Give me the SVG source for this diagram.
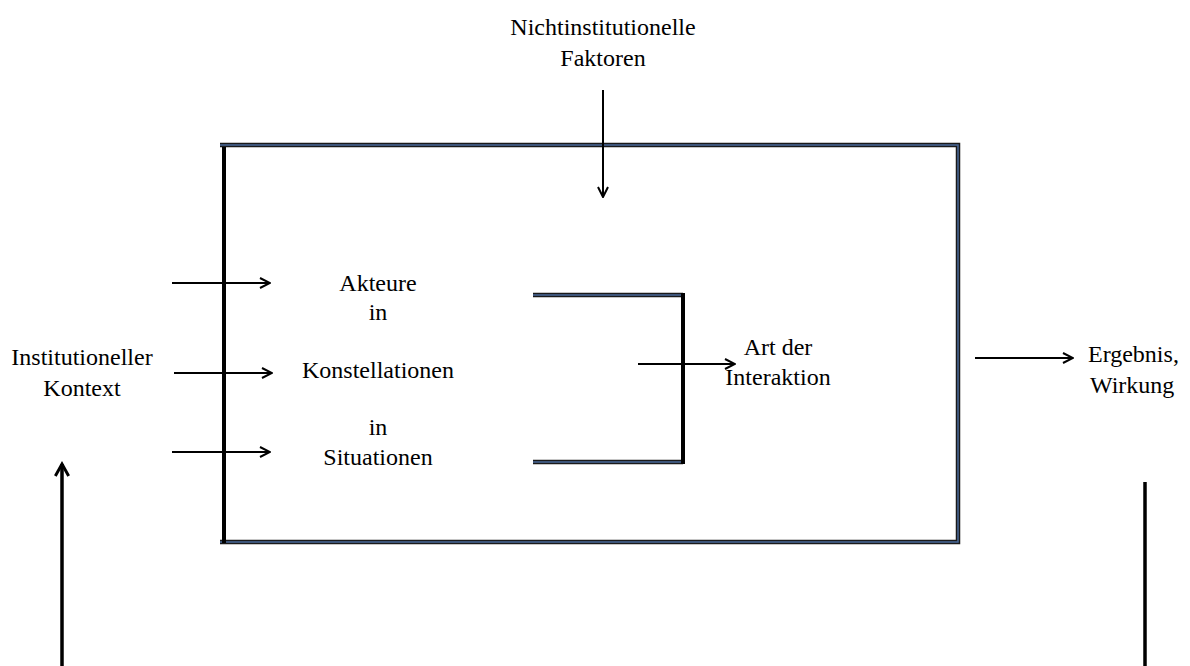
<svg xmlns="http://www.w3.org/2000/svg" width="1190" height="666" viewBox="0 0 1190 666">
<style>
text{font-family:"Liberation Serif","Times New Roman",serif;font-size:24px;fill:#000}
.c{text-anchor:middle}
.bo{stroke:#1a1a1a;stroke-width:4.5;fill:none}
.bi{stroke:#4a6a9a;stroke-width:1.5;fill:none}
.blk{stroke:#000;stroke-width:4;fill:none}
.ar{stroke:#000;stroke-width:2;fill:none}
.th{stroke:#000;stroke-width:3.5;fill:none}
</style>
<defs>
<marker id="h" viewBox="0 0 12 12" refX="11" refY="6" markerWidth="12" markerHeight="12" markerUnits="userSpaceOnUse" orient="auto">
<path d="M1,1 L11,6 L1,11" fill="none" stroke="#000" stroke-width="2"/>
</marker>
<marker id="h2" viewBox="0 0 12 12" refX="10" refY="6" markerWidth="16" markerHeight="16" markerUnits="userSpaceOnUse" orient="auto">
<path d="M1,1 L10,6 L1,11" fill="none" stroke="#000" stroke-width="2.2"/>
</marker>
</defs>
<g id="frame">
<path class="bo" d="M220,145 H958 V542 H220"/>
<path class="bi" d="M220,145 H958 V542 H220"/>
<line class="blk" x1="224" y1="147" x2="224" y2="543"/>
</g>
<g id="bracket">
<path class="bo" d="M533,295 H683 M533,462 H683"/>
<path class="bi" d="M533,295 H683 M533,462 H683"/>
<line class="blk" x1="683" y1="293" x2="683" y2="464"/>
</g>
<g id="connectors">
<line class="ar" x1="603" y1="90" x2="603" y2="197" marker-end="url(#h)"/>
<line class="ar" x1="172" y1="283" x2="270" y2="283" marker-end="url(#h)"/>
<line class="ar" x1="174" y1="373" x2="272" y2="373" marker-end="url(#h)"/>
<line class="ar" x1="172" y1="452" x2="270" y2="452" marker-end="url(#h)"/>
<line class="ar" x1="638" y1="364" x2="735" y2="364" marker-end="url(#h)"/>
<line class="ar" x1="975" y1="358" x2="1073" y2="358" marker-end="url(#h)"/>
<line class="th" x1="62" y1="666" x2="62" y2="464" marker-end="url(#h2)"/>
<line class="th" x1="1145" y1="482" x2="1145" y2="666"/>
</g>
<g id="nichtinst">
<text class="c" x="603" y="35">Nichtinstitutionelle</text>
<text class="c" x="603" y="66">Faktoren</text>
</g>
<g id="akteure">
<text class="c" x="378" y="291">Akteure</text>
<text class="c" x="378" y="320">in</text>
<text class="c" x="378" y="378">Konstellationen</text>
<text class="c" x="378" y="435">in</text>
<text class="c" x="378" y="465">Situationen</text>
</g>
<g id="kontext">
<text class="c" x="82" y="365">Institutioneller</text>
<text class="c" x="82" y="396">Kontext</text>
</g>
<g id="interaktion">
<text class="c" x="778" y="355">Art der</text>
<text class="c" x="778" y="385">Interaktion</text>
</g>
<g id="ergebnis">
<text x="1088" y="362">Ergebnis,</text>
<text x="1090" y="393">Wirkung</text>
</g>
</svg>
